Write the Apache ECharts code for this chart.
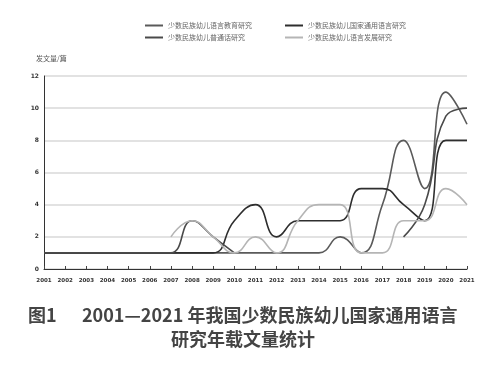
<!DOCTYPE html>
<html>
<head>
<meta charset="utf-8">
<script src="https://cdn.jsdelivr.net/npm/echarts@6/dist/echarts.min.js"></script>
<style>html,body{margin:0;padding:0;background:#fff;}#c{width:500px;height:367px;}</style>
</head>
<body>
<div id="c"></div>
<script>
const years = ['2001','2002','2003','2004','2005','2006','2007','2008','2009','2010','2011','2012','2013','2014','2015','2016','2017','2018','2019','2020','2021'];
const seriesNames = ['少数民族幼儿语言教育研究','少数民族幼儿国家通用语言研究','少数民族幼儿普通话研究','少数民族幼儿语言发展研究'];
const yTicks = [0,2,4,6,8,10,12];
// 少数民族幼儿语言教育研究
const s1 = [1,1,1,1,1,1,1,1,1,1,1,1,1,1,2,1,4,8,5,11,9];
// 少数民族幼儿国家通用语言研究
const s2 = [1,1,1,1,1,1,1,1,1,3,4,2,3,3,3,5,5,4,3,8,8];
// 少数民族幼儿普通话研究
const s3 = [1,1,1,1,1,1,1,3,2,1,null,null,null,null,null,null,null,2,4,9.5,10];
// 少数民族幼儿语言发展研究
const s4 = [null,null,null,null,null,null,2,3,2,1,2,1,3,4,4,1,1,3,3,5,4];

const colors = ['#5a5a5a','#2e2e2e','#4a4a4a','#b5b5b5'];
const chart = echarts.init(document.getElementById('c'), null, {renderer:'canvas'});
const mk = (name, data, i) => ({
  name, type:'line', data, smooth:0.5, showSymbol:false, symbol:'none',
  lineStyle:{color:colors[i], width:1.6}, itemStyle:{color:colors[i]}, connectNulls:false
});
chart.setOption({
  animation:false,
  backgroundColor:'#fff',
  legend:[
    {orient:'vertical', left:140, top:17, itemWidth:18, itemHeight:2, itemGap:5, icon:'rect',
     data:[seriesNames[0], seriesNames[2]], textStyle:{fontSize:7, color:'#666', fontFamily:'Noto Sans CJK SC'}},
    {orient:'vertical', left:280, top:17, itemWidth:18, itemHeight:2, itemGap:5, icon:'rect',
     data:[seriesNames[1], seriesNames[3]], textStyle:{fontSize:7, color:'#666', fontFamily:'Noto Sans CJK SC'}}
  ],
  grid:{left:44, right:33, top:76, bottom:98, containLabel:false},
  xAxis:{type:'category', data:years, boundaryGap:false,
    axisLine:{lineStyle:{color:'#333', width:1}},
    axisTick:{show:true, inside:true, length:3, lineStyle:{color:'#444'}},
    axisLabel:{interval:0, fontSize:5.5, color:'#333', fontWeight:'bold', margin:9, fontFamily:'DejaVu Sans'},
    splitLine:{show:false}},
  yAxis:{type:'value', min:0, max:12, interval:2,
    name:'发文量/篇', nameLocation:'end', nameGap:14,
    nameTextStyle:{fontSize:7, color:'#555', align:'left', padding:[0,0,0,-8], fontFamily:'Noto Sans CJK SC'},
    axisLine:{show:true, lineStyle:{color:'#333', width:1}},
    axisTick:{show:false},
    axisLabel:{fontSize:6, color:'#333', fontWeight:'bold', margin:5, fontFamily:'DejaVu Sans'},
    splitLine:{show:true, lineStyle:{color:'#d8d8d8', width:1.5}}},
  series:[mk(seriesNames[0], s1, 0), mk(seriesNames[1], s2, 1), mk(seriesNames[2], s3, 2), mk(seriesNames[3], s4, 3)],
  graphic:[
    {type:'text', left:28, top:306, style:{text:'图1', fontSize:18, fontWeight:'bold', fill:'#444', fontFamily:'Noto Sans CJK SC'}},
    {type:'text', left:82, top:306, style:{text:'2001—2021 年我国少数民族幼儿国家通用语言', fontSize:18, fontWeight:'bold', fill:'#444', fontFamily:'Noto Sans CJK SC'}},
    {type:'text', left:171, top:330, style:{text:'研究年载文量统计', fontSize:18, fontWeight:'bold', fill:'#444', fontFamily:'Noto Sans CJK SC'}}
  ]
});
</script>
</body>
</html>
